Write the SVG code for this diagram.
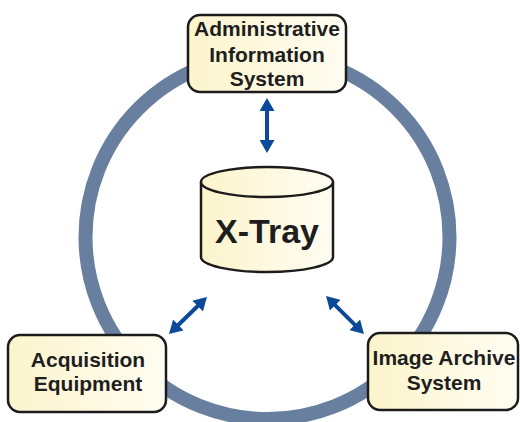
<svg xmlns="http://www.w3.org/2000/svg" width="520" height="422" viewBox="0 0 520 422">
<defs>
<linearGradient id="cream" x1="0" y1="0" x2="1" y2="0">
<stop offset="0" stop-color="#fcf4cc"/>
<stop offset="1" stop-color="#fffdf2"/>
</linearGradient>
<marker id="ah" markerUnits="userSpaceOnUse" markerWidth="14" markerHeight="15" refX="3" refY="7.5" orient="auto-start-reverse" viewBox="0 0 14 15">
<path d="M0,0 L13,7.5 L0,15 z" fill="#0b4a98"/>
</marker>
</defs>
<style>
.box{fill:url(#cream);stroke:#1c1c1c;stroke-width:2.5}
.lbl{font-family:"Liberation Sans",Arial,sans-serif;font-weight:bold;font-size:21px;fill:#1e1e1e;text-anchor:middle}
.arr{stroke:#0b4a98;stroke-width:4;fill:none}
</style>
<circle cx="267.5" cy="237" r="182" fill="none" stroke="#687fa0" stroke-width="14"/>
<g id="connectors">
<line class="arr" x1="267" y1="108" x2="267" y2="143" marker-start="url(#ah)" marker-end="url(#ah)"/>
<line class="arr" x1="199.8" y1="304" x2="176.2" y2="327" marker-start="url(#ah)" marker-end="url(#ah)"/>
<line class="arr" x1="333.1" y1="303.1" x2="356.9" y2="326.9" marker-start="url(#ah)" marker-end="url(#ah)"/>
</g>
<g id="admin">
<rect class="box" x="188" y="15" width="158" height="77" rx="12"/>
<text class="lbl" x="267" y="36">Administrative</text>
<text class="lbl" x="267" y="62">Information</text>
<text class="lbl" x="267" y="86">System</text>
</g>
<g id="xtray">
<path class="box" d="M201,182 L201,257 A66,15 0 0 0 333,257 L333,182"/>
<ellipse class="box" cx="267" cy="182" rx="66" ry="15"/>
<text class="lbl" x="267" y="243" style="font-size:34px">X-Tray</text>
</g>
<g id="acq">
<rect class="box" x="8" y="335" width="158" height="77" rx="12"/>
<text class="lbl" x="88" y="367">Acquisition</text>
<text class="lbl" x="88" y="391">Equipment</text>
</g>
<g id="archive">
<rect class="box" x="368" y="333" width="150" height="77" rx="12"/>
<text class="lbl" x="444" y="365">Image Archive</text>
<text class="lbl" x="444" y="390">System</text>
</g>
</svg>
